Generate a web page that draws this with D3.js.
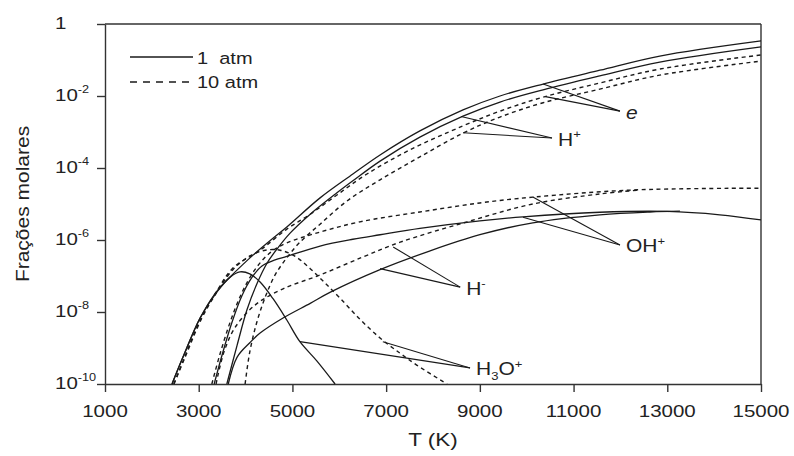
<!DOCTYPE html>
<html>
<head>
<meta charset="utf-8">
<script src="https://cdn.jsdelivr.net/npm/d3@7/dist/d3.min.js"></script>
<style>
body { margin: 0; background: #fff; }
svg text { font-family: "Liberation Sans", Arial, sans-serif; fill: #222; }
</style>
</head>
<body>
<div id="grafico"></div>
<script>
// frações molares (T em K)
// 1 atm
var T_e1 = [2430, 2665, 3030, 3390, 3670, 3945, 4160, 4520, 4880, 5590, 6290, 6870, 7720, 8640, 9430, 10350, 11560, 12840, 15000];
var V_e1 = [1e-10, 5.6e-10, 6.8e-9, 3.8e-8, 9.4e-8, 2.1e-7, 3.8e-7, 9.5e-7, 2.3e-6, 1.48e-5, 6.8e-5, 2.3e-4, 1.07e-3, 4.1e-3, 1e-2, 2.15e-2, 5.2e-2, 0.129, 0.34];
var T_hp1 = [3600, 3820, 4030, 4240, 4460, 4670, 4950, 5380, 5950, 6290, 6870, 7720, 8640, 9430, 10350, 11560, 12840, 15000];
var V_hp1 = [1e-10, 1.2e-9, 1.15e-8, 6e-8, 2.3e-7, 5.6e-7, 1.55e-6, 5.2e-6, 2.04e-5, 4.4e-5, 1.55e-4, 7.2e-4, 2.75e-3, 6.8e-3, 1.48e-2, 3.6e-2, 8.7e-2, 0.23];
var T_oh1 = [3330, 3500, 3710, 3920, 4140, 4350, 4630, 4880, 5590, 6290, 6870, 7720, 9000, 9920, 11560, 13000, 14120, 15000];
var V_oh1 = [1e-10, 6.5e-10, 5.2e-9, 2.8e-8, 9.3e-8, 1.9e-7, 2.8e-7, 3.5e-7, 6.8e-7, 1.05e-6, 1.4e-6, 2.1e-6, 3.4e-6, 4.4e-6, 5.9e-6, 6.2e-6, 5e-6, 3.6e-6];
var T_hm1 = [3630, 3820, 4090, 4310, 4800, 5380, 5800, 6870, 7940, 9000, 10130, 11560, 12630, 13270];
var V_hm1 = [1e-10, 5.6e-10, 1.4e-9, 2.6e-9, 6.8e-9, 1.74e-8, 3.5e-8, 1.5e-7, 5e-7, 1.4e-6, 3e-6, 5e-6, 6e-6, 6.3e-6];
var T_h3o1 = [2430, 2665, 3030, 3390, 3670, 3880, 4090, 4310, 4590, 4880, 5160, 5520, 5910];
var V_h3o1 = [1e-10, 5.6e-10, 6.8e-9, 3.6e-8, 9.3e-8, 1.3e-7, 1.15e-7, 6.8e-8, 2.3e-8, 6e-9, 1.5e-9, 4.4e-10, 1e-10];

// 10 atm
var T_e10 = [2470, 2700, 3060, 3400, 3730, 4310, 4880, 5380, 5950, 6590, 7510, 8640, 9430, 10350, 11560, 12840, 15000];
var V_e10 = [1e-10, 5.6e-10, 7.2e-9, 4.1e-8, 1.66e-7, 5.2e-7, 2e-6, 5.2e-6, 1.78e-5, 6.8e-5, 3.2e-4, 1.48e-3, 3.8e-3, 9.3e-3, 2.3e-2, 5.6e-2, 0.138];
var T_hp10 = [3990, 4090, 4240, 4420, 4630, 4880, 5160, 5590, 6160, 6870, 7720, 8640, 9430, 10350, 11560, 12840, 15000];
var V_hp10 = [1e-10, 7.8e-10, 5.2e-9, 2.6e-8, 1.07e-7, 3.2e-7, 8.7e-7, 2.75e-6, 1.2e-5, 4.7e-5, 2.04e-4, 9.3e-4, 2.6e-3, 6.5e-3, 1.55e-2, 3.8e-2, 9.3e-2];
var T_oh10 = [3280, 3450, 3670, 3920, 4200, 4520, 4880, 5590, 6440, 7720, 9000, 10130, 12270, 15000];
var V_oh10 = [1e-10, 6.5e-10, 5.2e-9, 3.4e-8, 1.5e-7, 4.4e-7, 8.3e-7, 1.66e-6, 3.2e-6, 6e-6, 1.07e-5, 1.55e-5, 2.45e-5, 2.75e-5];
var T_hm10 = [3370, 3540, 3770, 4200, 4800, 5590, 6510, 7300, 8730, 10130, 11560, 12420];
var V_hm10 = [1e-10, 7.8e-10, 3.6e-9, 1.55e-8, 4.4e-8, 1.07e-7, 3.4e-7, 8.7e-7, 3.2e-6, 1e-5, 1.9e-5, 2.45e-5];
var T_h3o10 = [2470, 2700, 3060, 3390, 3730, 4090, 4420, 4740, 5060, 5380, 5700, 6020, 6440, 6870, 7300, 7660, 8300];
var V_h3o10 = [1e-10, 5.2e-10, 6.5e-9, 3.6e-8, 1.5e-7, 3.6e-7, 5.2e-7, 5.2e-7, 3.5e-7, 1.6e-7, 6.3e-8, 2.4e-8, 6.3e-9, 1.9e-9, 7.1e-10, 3.3e-10, 1e-10];

// eixos
var ticks_T = [1000, 3000, 5000, 7000, 9000, 11000, 13000, 15000];
var ticks_exp = [0, -2, -4, -6, -8, -10];

// legenda e rótulos das espécies
var legenda = ["1  atm", "10 atm"];
var rotulos = [
    [["e", "it"]],
    ["H", ["+", "sup"]],
    ["OH", ["+", "sup"]],
    ["H", ["-", "sup"]],
    ["H", ["3", "sub"], "O", ["+", "sup"]]
];
// ponto de onde sai cada seta (T, fração) e pontos das curvas a que ela aponta
var seta_origem = [[11990, 3.8e-3], [10540, 6.8e-4], [11990, 7.3e-7], [8580, 4.9e-8], [8790, 2.8e-10]];
var seta_alvos = [
    [[10350, 2.15e-2], [10400, 9.6e-3]],
    [[8600, 2.7e-3], [8640, 9.5e-4]],
    [[10130, 1.56e-5], [9920, 4.3e-6]],
    [[6870, 1.6e-7], [7150, 6.4e-7]],
    [[5160, 1.5e-9], [6930, 1.5e-9]]
];

var width = 794, height = 456;
var SQ = 0.84; // o texto da figura original aparece achatado na vertical

var series = [
    [T_e1, V_e1, 1], [T_hp1, V_hp1, 1], [T_oh1, V_oh1, 1], [T_hm1, V_hm1, 1], [T_h3o1, V_h3o1, 1],
    [T_e10, V_e10, 10], [T_hp10, V_hp10, 10], [T_oh10, V_oh10, 10], [T_hm10, V_hm10, 10], [T_h3o10, V_h3o10, 10]
].map(function(s){
    return { atm: s[2], pts: s[0].map(function(t, i){ return [t, s[1][i]]; }) };
});

var svg = d3.select("#grafico")
            .append("svg")
            .attr("width", width)
            .attr("height", height);

var x = d3.scaleLinear()
          .domain([1000, 15000])
          .range([105, 761]);

var y = d3.scaleLog()
          .domain([1e-10, 1])
          .range([384, 24]);

function escreve(g, px, py, size, partes, anchor, rot){
    var tr = "translate(" + px + "," + py + ")" + (rot ? " rotate(" + rot + ")" : "") + " scale(1," + SQ + ")";
    var t = g.append("text")
             .attr("transform", tr)
             .attr("text-anchor", anchor || "start")
             .style("font-size", size + "px")
             .style("white-space", "pre");
    var desloc = 0;
    partes.forEach(function(p){
        var s = (typeof p === "string") ? [p, ""] : p;
        var alvo = s[1] === "sup" ? -size * 0.42 : (s[1] === "sub" ? size * 0.28 : 0);
        var ts = t.append("tspan").text(s[0]).attr("dy", alvo - desloc);
        desloc = alvo;
        if (s[1] === "sup" || s[1] === "sub") ts.style("font-size", (size * 0.62) + "px");
        if (s[1] === "it") ts.style("font-style", "italic");
    });
    return t;
}

// eixo x
svg.append("g")
   .attr("transform", "translate(0," + y.range()[0] + ")")
   .call(d3.axisBottom(x).tickValues(ticks_T).tickSize(8).tickSizeOuter(0).tickFormat(""));

// eixo y
svg.append("g")
   .attr("transform", "translate(" + x.range()[0] + ",0)")
   .call(d3.axisLeft(y).tickValues(ticks_exp.map(function(e){ return Math.pow(10, e); }))
       .tickSize(8).tickSizeOuter(0).tickFormat(""));

// moldura de cima e da direita
var moldura = svg.append("g");
moldura.append("line")
    .attr("x1", x.range()[0]).attr("x2", x.range()[1])
    .attr("y1", y.range()[1]).attr("y2", y.range()[1]);
moldura.append("line")
    .attr("x1", x.range()[1]).attr("x2", x.range()[1])
    .attr("y1", y.range()[1]).attr("y2", y.range()[0]);

svg.selectAll(".domain, .tick line, g line")
    .attr("stroke", "#333")
    .attr("stroke-width", 1.4);

var textos = svg.append("g");

ticks_T.forEach(function(t){
    escreve(textos, x(t), 417, 20.5, [String(t)], "middle");
});

ticks_exp.forEach(function(e){
    var partes = e === 0 ? ["1"] : ["10", [String(e), "sup"]];
    escreve(textos, 55, y(Math.pow(10, e)) + 4.5, 20.5, partes, "start");
});

escreve(textos, (x.range()[0] + x.range()[1]) / 2, 446, 22.5, ["T (K)"], "middle");
escreve(textos, 29, (y.range()[0] + y.range()[1]) / 2, 21, ["Frações molares"], "middle", -90);

// curvas
var linha = d3.line()
              .x(function(d){ return x(d[0]); })
              .y(function(d){ return y(d[1]); })
              .curve(d3.curveCatmullRom.alpha(0.5));

svg.append("g")
   .selectAll("path")
   .data(series)
   .enter()
   .append("path")
   .attr("d", function(d){ return linha(d.pts); })
   .attr("fill", "none")
   .attr("stroke", "#1a1a1a")
   .attr("stroke-width", function(d){ return d.atm === 1 ? 1.3 : 1.4; })
   .attr("stroke-dasharray", function(d){ return d.atm === 1 ? null : "4,3.5"; });

// setas e nomes das espécies
var setas = svg.append("g");
seta_origem.forEach(function(o, i){
    seta_alvos[i].forEach(function(a){
        setas.append("line")
             .attr("x1", x(o[0])).attr("y1", y(o[1]))
             .attr("x2", x(a[0])).attr("y2", y(a[1]))
             .attr("stroke", "#1a1a1a")
             .attr("stroke-width", 1.1);
    });
    escreve(textos, x(o[0]) + 6, y(o[1]) + 7.5, 21, rotulos[i], "start");
});

// legenda
var leg = svg.append("g");
leg.append("line")
   .attr("x1", 130).attr("x2", 193).attr("y1", 57).attr("y2", 57)
   .attr("stroke", "#1a1a1a").attr("stroke-width", 1.3);
leg.append("line")
   .attr("x1", 130).attr("x2", 191).attr("y1", 82).attr("y2", 82)
   .attr("stroke", "#1a1a1a").attr("stroke-width", 1.3)
   .attr("stroke-dasharray", "7,6");
escreve(leg, 197, 63.5, 20, [legenda[0]], "start");
escreve(leg, 197, 88, 20, [legenda[1]], "start");
</script>
</body>
</html>
